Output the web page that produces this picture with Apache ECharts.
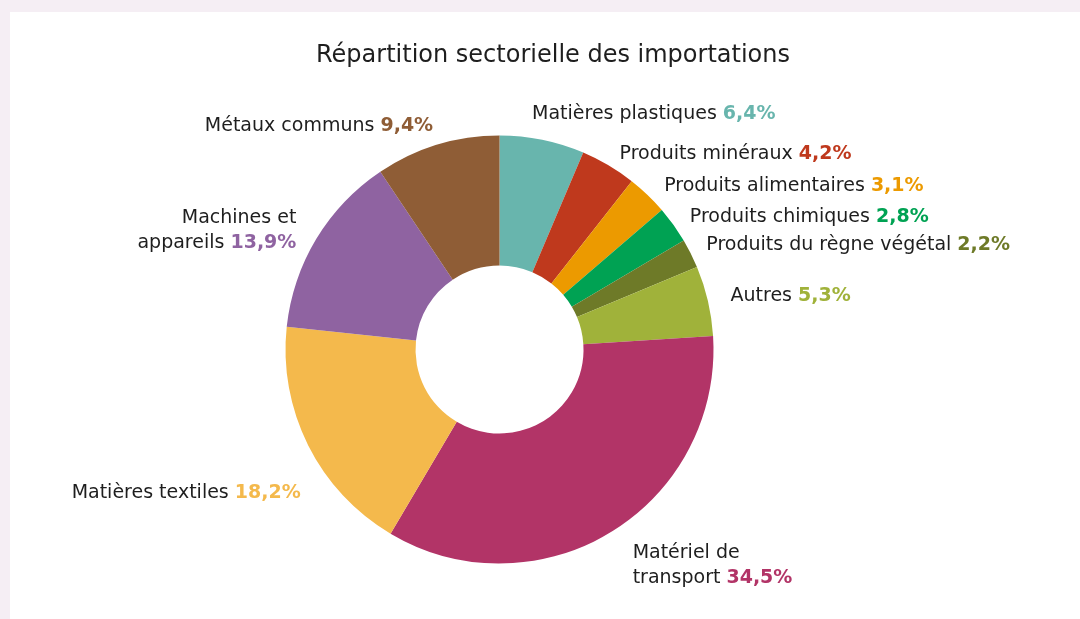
<!DOCTYPE html>
<html>
<head>
<meta charset="utf-8">
<script src="https://cdn.jsdelivr.net/npm/echarts@6/dist/echarts.min.js"></script>
<style>
  html, body { margin: 0; padding: 0; background: #f5eef4; }
  #chart { position: absolute; left: 10px; top: 12px; width: 1070px; height: 607px; background: #fff; }
</style>
</head>
<body>
<div id="chart"></div>
<script>
// secteurs, dans le sens horaire depuis midi
const sectors = [
  'Matières plastiques',
  'Produits minéraux',
  'Produits alimentaires',
  'Produits chimiques',
  'Produits du règne végétal',
  'Autres',
  'Matériel de\ntransport',
  'Matières textiles',
  'Machines et\nappareils',
  'Métaux communs'
]
// part en %
const shares = [6.4, 4.2, 3.1, 2.8, 2.2, 5.3, 34.5, 18.2, 13.9, 9.4]
const colors = ['#68b5ad', '#bf391d', '#ec9a00', '#00a253', '#6e7a28', '#a0b23a', '#b23467', '#f4b94c', '#8f63a1', '#8f5d36']

// petits décalages des étiquettes (dx, dy) pour coller au rendu d'origine
const nudges = [[-24, -12], [-7, 1], [-4, 1], [-6, 0], [-8, -2], [-2, -2], [3, 22], [16, 41], [3, -1], [11, -5]]

const FONT = '"DejaVu Sans", "Open Sans", sans-serif'
const FS = 19

const myChart = echarts.init(document.getElementById('chart'))

const data = sectors.map((name, i) => ({
  name: name,
  value: shares[i],
  itemStyle: { color: colors[i] },
  label: {
    rich: {
      v: { color: colors[i], fontWeight: 'bold', fontSize: FS, fontFamily: FONT, lineHeight: 25 }
    }
  }
}))

const option = {
  animation: false,
  title: {
    text: 'Répartition sectorielle des importations',
    left: 301,
    top: 27,
    textStyle: { fontFamily: FONT, fontWeight: 'normal', fontSize: 24, color: '#1e1e1e' }
  },
  series: [
    {
      type: 'pie',
      center: [489.5, 337.5],
      radius: [84, 214],
      startAngle: 90,
      clockwise: true,
      avoidLabelOverlap: true,
      label: {
        show: true,
        position: 'outside',
        fontFamily: FONT,
        fontSize: FS,
        color: '#1e1e1e',
        lineHeight: 25,
        formatter: (p) => {
          const lines = p.name.split('\n')
          const val = p.value.toFixed(1).replace('.', ',') + '%'
          return lines.map((l, k) => k === lines.length - 1 ? '{n|' + l + '} {v|' + val + '}' : '{n|' + l + '}').join('\n')
        },
        rich: {
          n: { color: '#1e1e1e', fontSize: FS, fontFamily: FONT, lineHeight: 25 }
        }
      },
      labelLine: { show: false, length: 14, length2: 6 },
      labelLayout: (params) => {
        const d = nudges[params.dataIndex]
        return { dx: d[0], dy: d[1] }
      },
      data: data
    }
  ]
}
myChart.setOption(option)
</script>
</body>
</html>
